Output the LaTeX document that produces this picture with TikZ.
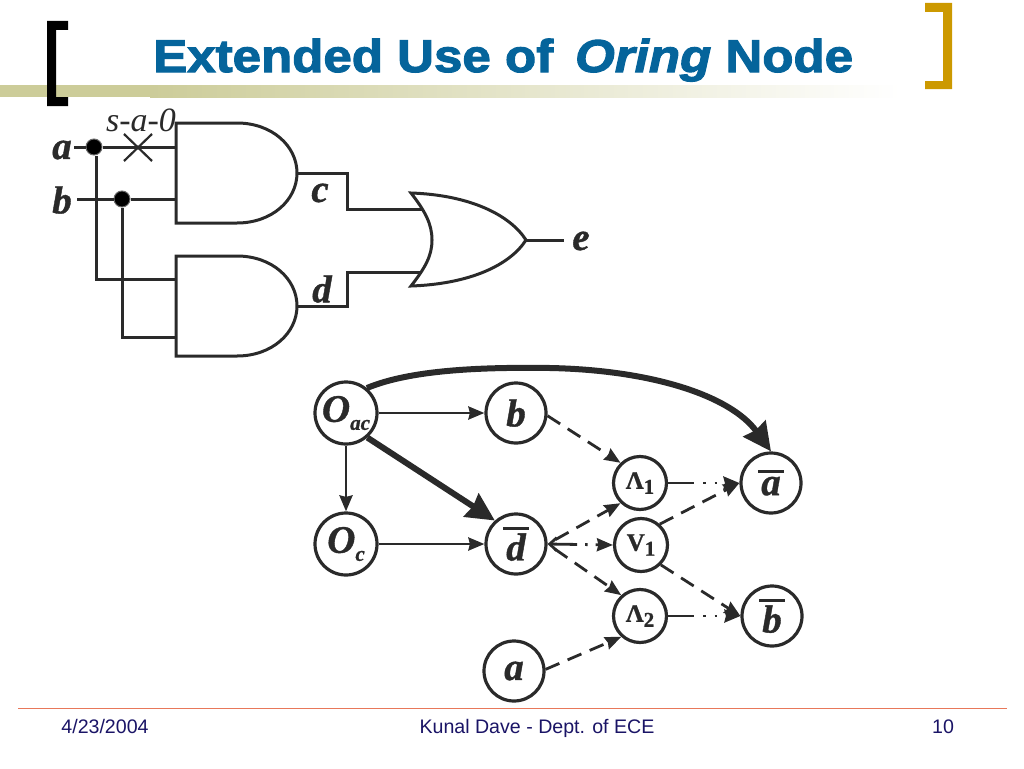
\documentclass[tikz,border=0pt]{standalone}
\usepackage{fontspec}
\setmainfont[BoldFeatures={FakeBold=1},BoldItalicFeatures={FakeBold=1}]{Liberation Serif}
\newfontfamily\headfont[FakeStretch=1.11,BoldFeatures={FakeBold=2.4,FakeStretch=1.11},BoldItalicFeatures={FakeBold=2.4,FakeStretch=1.11}]{Liberation Sans}
\newfontfamily\footfont{Liberation Sans}
\usetikzlibrary{calc, positioning, arrows.meta}
\definecolor{ink}{RGB}{42, 42, 42}
\definecolor{headblue}{RGB}{5, 100, 155}
\definecolor{bandolive}{RGB}{204, 204, 153}
\definecolor{bracketgold}{RGB}{204, 153, 0}
\definecolor{rulesalmon}{RGB}{232, 120, 90}
\definecolor{footnavy}{RGB}{26, 20, 102}
\newcommand{\barred}[1]{\vbox{\hrule height 2.8pt \kern 3.5pt \hbox{\kern 3pt #1\kern 3pt}}}
\newcommand{\subbed}[3]{#1\raisebox{-#3}{\fontsize{21}{21}\selectfont #2}}
\tikzset{
  wire/.style={draw=ink, line width=3pt},
  biglabel/.style={inner sep=0pt, text=ink, font=\fontsize{39}{39}\selectfont\bfseries\itshape},
  varnode/.style={circle, draw=ink, fill=white, line width=3.2pt, minimum size=60pt, inner sep=0pt,
    text=ink, font=\fontsize{39}{39}\selectfont\bfseries\itshape},
  opnode/.style={circle, draw=ink, fill=white, line width=3.2pt, minimum size=53pt, inner sep=0pt,
    text=ink, font=\fontsize{25}{25}\selectfont\bfseries},
  flow/.style={draw=ink, line width=2.8pt, -{Stealth[length=16pt,width=13pt,inset=1.5pt]}},
  heavy/.style={draw=ink, line width=6pt, -{Stealth[length=28pt,width=27pt,inset=2pt]}},
  dashflow/.style={flow, dash pattern=on 15pt off 9pt},
  mixflow/.style={flow, dash pattern=on 26pt off 9pt on 2.5pt off 9pt on 2.5pt off 9pt on 20pt},
  footlabel/.style={anchor=base, inner sep=0pt, text=footnavy, font=\fontsize{19.6}{19.6}\selectfont\footfont}
}
\begin{document}
\begin{tikzpicture}[x=1pt, y=-1pt]
  \useasboundingbox (0,0) rectangle (1024,768);

  % slide furniture
  \fill[bandolive] (0,85) rectangle (150,97);
  \fill[left color=bandolive, right color=white] (150,85) rectangle (900,97);
  \fill[black] (47,21) -- (68,21) -- (68,30) -- (56,30) -- (56,97) -- (68,97) -- (68,106) -- (47,106) -- cycle;
  \fill[bracketgold] (925,3) -- (952,3) -- (952,89) -- (925,89) -- (925,81) -- (943,81) -- (943,12) -- (925,12) -- cycle;
  \node[anchor=base west, inner sep=0pt, text=headblue, font=\fontsize{46}{46}\selectfont\headfont\bfseries] (headline) at (153,72)
    {Extended Use of\, \textit{Oring} Node};
  \fill[rulesalmon] (18,707.5) rectangle (1007,708.9);
  \node[footlabel] (footdate) at (105,733) {4/23/2004};
  \node[footlabel] (footname) at (537,733) {Kunal Dave - Dept. of ECE};
  \node[footlabel] (footpage) at (943,733) {10};

  % AND gates
  \foreach \gy/\gname in {173/andc, 306/andd} {
    \draw[wire] (176,\gy-50) -- (237,\gy-50) .. controls (272,\gy-50) and (297,\gy-27) .. (297,\gy)
      .. controls (297,\gy+27) and (272,\gy+50) .. (237,\gy+50) -- (176,\gy+50) -- cycle;
    \coordinate (\gname top) at (176,\gy-26);
    \coordinate (\gname low) at (176,\gy+26);
    \coordinate (\gname out) at (297,\gy);
  }

  % OR gate
  \draw[wire] (411,193) .. controls (470,195) and (510,215) .. (526,240)
    .. controls (510,265) and (470,284) .. (411,286)
    .. controls (425,268) and (432,256) .. (432,240)
    .. controls (432,224) and (425,211) .. (411,193) -- cycle;
  \coordinate (ortop) at (422,209);
  \coordinate (orlow) at (422,272);
  \coordinate (orout) at (526,240);

  % inputs
  \node[biglabel] (ina) at (62,150) {a};
  \node[biglabel] (inb) at (62,200) {b};
  \node[biglabel] (outc) at (320,193) {c};
  \node[biglabel] (outd) at (322,289) {d};
  \node[biglabel] (oute) at (581,241) {e};
  \node[inner sep=0pt, text=ink, font=\fontsize{34}{34}\selectfont\itshape] (fault) at (141,120) {s-a-0};
  \node[circle, fill=black, draw=ink!70, line width=1pt, minimum size=16pt, inner sep=0pt] (joina) at (94,147) {};
  \node[circle, fill=black, draw=ink!70, line width=1pt, minimum size=16pt, inner sep=0pt] (joinb) at (122,199) {};
  \coordinate (stuba) at (74,147);
  \coordinate (stubb) at (77,199);
  \draw[wire] (stuba) -- (joina);
  \draw[wire] (joina) -- (176,147);
  \draw[wire] (stubb) -- (joinb);
  \draw[wire] (joinb) -- (andctop |- joinb);
  \draw[wire] ([xshift=2pt]joina.south) -- (96,279) -- (176,279);
  \draw[wire] (joinb) -- (122,337) -- (176,337);
  \draw[draw=ink, line width=2.2pt] (124,134) -- (152,161) (124,161) -- (152,134);

  % outputs
  \draw[wire] (andcout) -- (347,173) -- (347,209) -- (ortop);
  \draw[wire] (anddout) -- (347,306) -- (347,272) -- (orlow);
  \coordinate (outstub) at (564,240);
  \draw[wire] (orout) -- (outstub);

  % implication graph
  \node[varnode, minimum size=62pt] (noac) at (346,413) {\subbed{O}{ac}{8pt}};
  \node[varnode] (nob) at (516,413) {b};
  \node[varnode, minimum size=62pt] (noc) at (346,544) {\subbed{O}{c}{8pt}};
  \node[varnode] (nodbar) at (516,544) {\barred{d}};
  \node[varnode] (noa) at (514,671) {a};
  \node[opnode] (andone) at (640,483) {\subbed{Λ}{1}{5pt}};
  \node[opnode] (vee) at (641,545) {\subbed{V}{1}{5pt}};
  \node[opnode] (andtwo) at (640,616) {\subbed{Λ}{2}{5pt}};
  \node[varnode] (noabar) at (771,483) {\barred{a}};
  \node[varnode] (nobbar) at (772,616) {\barred{b}};

  % solid edges
  \draw[flow] (noac.east) -- (nob.west);
  \draw[flow] (noac.south) -- (noc.north);
  \draw[flow] (noc.east) -- (nodbar.west);
  \draw[heavy] (noac.-49) -- (nodbar.132);
  \draw[heavy] (noac.50) .. controls (410,370) and (480,367) .. (550,368)
    .. controls (650,370) and (730,395) .. (noabar.north);

  % dashed edges
  \draw[dashflow] (nob.-5) -- (andone.134);
  \draw[dashflow, dash phase=15pt] (nodbar.east) -- (andone.226);
  \draw[dashflow, dash phase=15pt] (nodbar.east) -- (andtwo.132);
  \draw[dashflow] (noa.3) -- (andtwo.228);
  \draw[dashflow] (vee.48) -- (noabar.west);
  \draw[dashflow] (vee.-45) -- (nobbar.west);

  % dash-dot edges
  \draw[mixflow] (andone.east) -- (noabar.west);
  \draw[mixflow] (andtwo.east) -- (nobbar.west);
  \draw[flow, dash pattern=on 26pt off 8pt on 2.5pt off 8pt on 20pt, {Straight Barb[length=7pt,width=13pt]}-{Stealth[length=16pt,width=13pt,inset=1.5pt]}] (nodbar.east) -- (vee.west);
\end{tikzpicture}
\end{document}
